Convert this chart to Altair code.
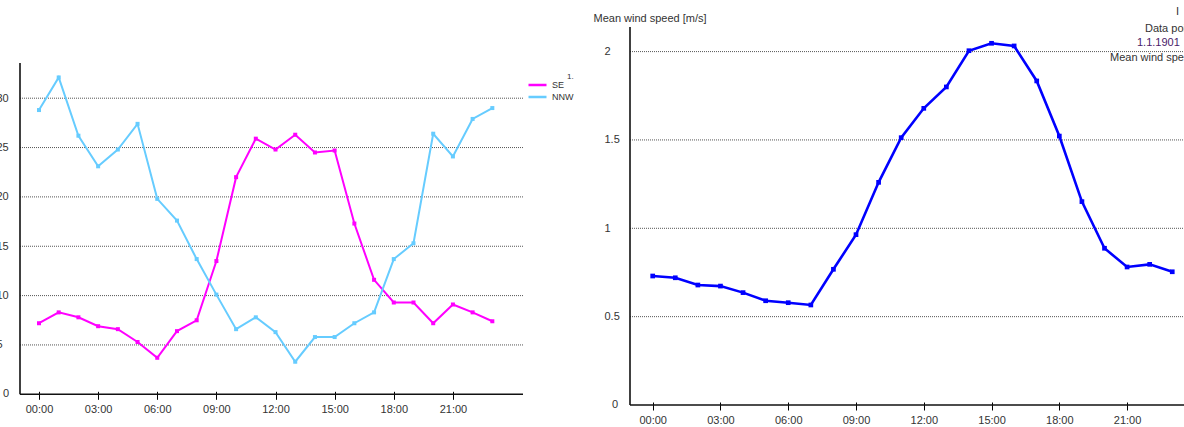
import altair as alt
import pandas as pd

# ---------------- data ----------------
hours = list(range(24))
se = [7.2, 8.3, 7.8, 6.9, 6.6, 5.3, 3.7, 6.4, 7.5, 13.5, 22.0, 25.9,
      24.8, 26.3, 24.5, 24.7, 17.3, 11.6, 9.3, 9.3, 7.2, 9.1, 8.3, 7.4]
nnw = [28.8, 32.1, 26.2, 23.1, 24.8, 27.4, 19.8, 17.6, 13.7, 10.1, 6.6, 7.8,
       6.3, 3.3, 5.8, 5.8, 7.2, 8.3, 13.7, 15.3, 26.4, 24.1, 27.9, 29.0]
mean_speed = [0.730, 0.720, 0.679, 0.673, 0.636, 0.590, 0.579, 0.566,
              0.768, 0.964, 1.260, 1.513, 1.679, 1.800, 2.005, 2.047,
              2.032, 1.834, 1.522, 1.151, 0.887, 0.781, 0.796, 0.754]
series_names = ["SE", "NNW"]
series_colors = ["#ff00ff", "#66ccff"]
x_tick_hours = [0, 3, 6, 9, 12, 15, 18, 21]
left_y_ticks = [5, 10, 15, 20, 25, 30]
right_y_ticks = [0.5, 1, 1.5, 2]

# ---------------- geometry (pixels) ----------------
PAD_L, PAD_T, W, H, PAD_B = 20, 27, 1164, 378, 22
FONT = "Liberation Sans"
TICK_UP = 3  # part of each x tick that sits above the axis line

# left panel scales
L_H0 = 39 - PAD_L          # plot x of hour 0
L_PXH = 19.71              # px per hour
L_Y0 = 394.3 - PAD_T       # plot y of value 0
L_PXU = 9.87               # px per unit
LX_DOM = [-L_H0 / L_PXH, (W - L_H0) / L_PXH]
LY_DOM = [-(H - L_Y0) / L_PXU, L_Y0 / L_PXU]
L_AXIS_X = LX_DOM[0]
L_X_END = (523 - 39) / L_PXH
L_Y_TOP = (394.3 - 63) / L_PXU

# right panel scales
R_H0 = 652.7 - PAD_L
R_PXH = 22.59
R_PXU = 176.7
RX_DOM = [-R_H0 / R_PXH, (W - R_H0) / R_PXH]
RY_DOM = [0, H / R_PXU]
R_AXIS_X = (630 - 652.7) / R_PXH
R_X_END = RX_DOM[1]

SL_X = alt.Scale(domain=LX_DOM, zero=False, nice=False)
SL_Y = alt.Scale(domain=LY_DOM, zero=False, nice=False)
SR_X = alt.Scale(domain=RX_DOM, zero=False, nice=False)
SR_Y = alt.Scale(domain=RY_DOM, zero=False, nice=False)

hour_label = "(datum.value < 10 ? '0' : '') + datum.value + ':00'"

AX_LX = alt.Axis(orient="bottom", offset=-(H - L_Y0) - TICK_UP,
                 values=x_tick_hours, labelExpr=hour_label, domain=False,
                 grid=False, tickSize=8, tickColor="#000", tickWidth=1,
                 labelPadding=4, title=None)
AX_LY = alt.Axis(orient="left", values=left_y_ticks, labelAlign="left",
                 labelPadding=24, ticks=False, domain=False, grid=False,
                 labelBaseline="middle", title=None)
AX_RX = alt.Axis(orient="bottom", offset=-TICK_UP, values=x_tick_hours,
                 labelExpr=hour_label, domain=False, grid=False, tickSize=8,
                 tickColor="#000", tickWidth=1, labelPadding=4, title=None)
AX_RY = alt.Axis(orient="left", offset=-(630 - PAD_L), values=right_y_ticks,
                 format="~g", labelAlign="left", labelPadding=26, ticks=False,
                 domain=False, grid=False, labelBaseline="middle",
                 title="Mean wind speed [m/s]", titleAngle=0, titleAlign="left",
                 titleBaseline="middle", titleX=593 - 630, titleY=18 - PAD_T,
                 titleFont=FONT, titleFontSize=11, titleFontWeight="normal",
                 titleColor="#333")


def lx(field=None, datum=None):
    if datum is not None:
        return alt.X(datum=datum, type="quantitative", scale=SL_X, axis=AX_LX)
    return alt.X(field, type="quantitative", scale=SL_X, axis=AX_LX)


def ly(field=None, datum=None):
    if datum is not None:
        return alt.Y(datum=datum, type="quantitative", scale=SL_Y, axis=AX_LY)
    return alt.Y(field, type="quantitative", scale=SL_Y, axis=AX_LY)


def rx(field=None, datum=None):
    if datum is not None:
        return alt.X(datum=datum, type="quantitative", scale=SR_X, axis=AX_RX)
    return alt.X(field, type="quantitative", scale=SR_X, axis=AX_RX)


def ry(field=None, datum=None):
    if datum is not None:
        return alt.Y(datum=datum, type="quantitative", scale=SR_Y, axis=AX_RY)
    return alt.Y(field, type="quantitative", scale=SR_Y, axis=AX_RY)


# ---------------- tables ----------------
left_df = pd.DataFrame({
    "hour": hours * 2,
    "value": se + nnw,
    "series": ["SE"] * 24 + ["NNW"] * 24,
})
right_df = pd.DataFrame({"hour": hours, "speed": mean_speed})
lgrid_df = pd.DataFrame({"v": left_y_ticks})
rgrid_df = pd.DataFrame({"v": right_y_ticks})

GRID = dict(stroke="#555", strokeDash=[1, 1], strokeWidth=1)
AXLINE = dict(stroke="#111", strokeWidth=1.6)

# ---------------- left panel ----------------
l_grid = alt.Chart(lgrid_df).mark_rule(**GRID).encode(
    y=ly("v"), x=lx(datum=L_AXIS_X), x2=alt.X2(datum=L_X_END))
l_yaxis = alt.Chart().mark_rule(**AXLINE).encode(
    x=lx(datum=L_AXIS_X), y=ly(datum=0), y2=alt.Y2(datum=L_Y_TOP))
l_xaxis = alt.Chart().mark_rule(**AXLINE).encode(
    y=ly(datum=0), x=lx(datum=L_AXIS_X), x2=alt.X2(datum=L_X_END))
l_zero = alt.Chart().mark_text(align="left", baseline="middle", dx=-17,
                               font=FONT, fontSize=11, color="#333").encode(
    x=lx(datum=L_AXIS_X), y=ly(datum=0), text=alt.value("0"))
l_lines = alt.Chart(left_df).mark_line(
    strokeWidth=2,
    point=alt.OverlayMarkDef(shape="square", size=16, filled=True)
).encode(
    x=lx("hour"), y=ly("value"),
    color=alt.Color("series:N",
                    scale=alt.Scale(domain=series_names, range=series_colors),
                    legend=alt.Legend(orient="none", legendX=527 - PAD_L,
                                      legendY=79 - PAD_T, title=None,
                                      symbolType="stroke", symbolSize=324,
                                      symbolStrokeWidth=2.5, labelFontSize=9,
                                      labelFont=FONT, labelColor="#333",
                                      labelOffset=4, clipHeight=12,
                                      rowPadding=0, padding=0)),
    order=alt.Order("hour:Q"),
)
l_note = alt.Chart().mark_text(align="left", baseline="middle", font=FONT,
                               fontSize=8, color="#333").encode(
    x=alt.value(567 - PAD_L), y=alt.value(77 - PAD_T), text=alt.value("1."))

left = alt.layer(l_grid, l_yaxis, l_xaxis, l_zero, l_lines, l_note)

# ---------------- right panel ----------------
r_grid = alt.Chart(rgrid_df).mark_rule(**GRID).encode(
    y=ry("v"), x=rx(datum=R_AXIS_X), x2=alt.X2(datum=R_X_END))
r_yaxis = alt.Chart().mark_rule(**AXLINE).encode(
    x=rx(datum=R_AXIS_X), y=ry(datum=0), y2=alt.Y2(datum=RY_DOM[1]))
r_xaxis = alt.Chart().mark_rule(**AXLINE).encode(
    y=ry(datum=0), x=rx(datum=R_AXIS_X), x2=alt.X2(datum=R_X_END))
r_zero = alt.Chart().mark_text(align="left", baseline="middle", dx=-18,
                               font=FONT, fontSize=11, color="#333").encode(
    x=rx(datum=R_AXIS_X), y=ry(datum=0), text=alt.value("0"))
r_line = alt.Chart(right_df).mark_line(
    color="#0000ff", strokeWidth=2.6,
    point=alt.OverlayMarkDef(shape="square", size=22, filled=True,
                             color="#0000ff")
).encode(x=rx("hour"), y=ry("speed"))

info_texts = ["I", "Data points", "1.1.1901", "Mean wind speed"]
info_x = [1176, 1145, 1137, 1110]
info_y = [12, 29, 43, 58]
info_col = ["#333", "#333", "#4a1a6a", "#333"]
r_info = [
    alt.Chart().mark_text(align="left", baseline="middle", font=FONT,
                          fontSize=11, color=c).encode(
        x=alt.value(px - PAD_L), y=alt.value(py - PAD_T), text=alt.value(t))
    for t, px, py, c in zip(info_texts, info_x, info_y, info_col)
]

right = alt.layer(r_grid, r_yaxis, r_xaxis, r_zero, r_line, *r_info)

chart = alt.layer(left, right).resolve_scale(
    x="independent", y="independent", color="independent"
).resolve_axis(x="independent", y="independent").properties(
    width=W, height=H,
    autosize=alt.AutoSizeParams(type="none"),
    padding={"left": PAD_L, "top": PAD_T, "right": 0, "bottom": PAD_B},
    background="white",
).configure_view(stroke=None).configure_axis(
    labelFont=FONT, labelFontSize=11, labelColor="#333"
)

chart.save("out.html", embed_options={"renderer": "svg", "actions": False})
